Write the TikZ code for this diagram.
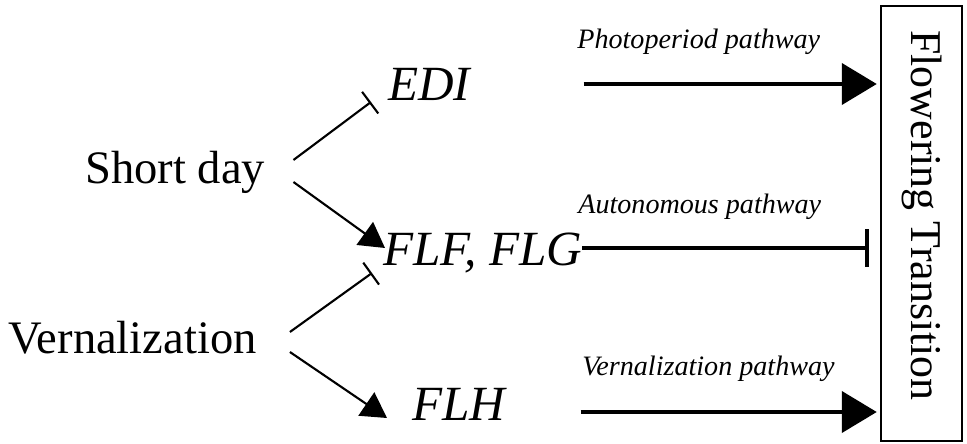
\documentclass[tikz,border=0pt]{standalone}
\usepackage{fontspec}
\setmainfont{Liberation Serif}
\usetikzlibrary{arrows.meta}

\begin{document}
\begin{tikzpicture}[x=0.02cm, y=-0.02cm,
        signal/.style={font=\fontsize{26.5}{30}\selectfont, inner sep=0pt, anchor=base west},
        gene/.style={font=\fontsize{28}{32}\selectfont\itshape, inner sep=0pt, anchor=base west},
        pathlabel/.style={font=\fontsize{16}{19}\selectfont\itshape, inner sep=0pt, anchor=base west},
        promote/.style={line width=1.2pt, -{Triangle[length=0.5cm, width=0.56cm]}},
        repress/.style={line width=1.2pt, -{Bar[width=0.54cm]}},
        bigpromote/.style={line width=2.4pt, -{Triangle[length=0.7cm, width=0.82cm]}, shorten >=0.06cm},
        bigrepress/.style={line width=2pt, -{Bar[width=0.76cm]}, shorten >=0.22cm}]
        \useasboundingbox (0,0) rectangle (967,443);
        \node[signal] (shortday) at (85,183) {Short day};
        \node[signal] (vern) at (8,353) {Vernalization};
        \node[gene] (edi) at (388,100) {EDI};
        \node[gene] (flf) at (383,265) {FLF, FLG};
        \node[gene] (flh) at (412,420) {FLH};
        \node[pathlabel] (photolab) at (577,48) {Photoperiod pathway};
        \node[pathlabel] (autolab) at (578,213) {Autonomous pathway};
        \node[pathlabel] (vernlab) at (582,375) {Vernalization pathway};
        \node[draw, line width=1.4pt, rotate=-90, minimum width=8.7cm, minimum height=1.62cm,
              font=\fontsize{25}{29}\selectfont] (flower) at (921.5,223.5) {Flowering Transition\kern0.32cm};
        \draw[repress] ([shift={(28,-23)}]shortday.base east) -- ([shift={(-17,2)}]edi.base west);
        \draw[promote] ([shift={(28,-1)}]shortday.base east) -- ([shift={(2,-17)}]flf.base west);
        \draw[repress] ([shift={(33,-21)}]vern.base east) -- ([shift={(-11,8)}]flf.base west);
        \draw[promote] ([shift={(33,-1)}]vern.base east) -- ([shift={(-25,-2)}]flh.base west);
        \draw[bigpromote] ([shift={(113,-16)}]edi.base east) coordinate (e1) -- (e1 -| flower.south);
        \draw[bigrepress] ([shift={(0,-17)}]flf.base east) coordinate (e2) -- (e2 -| flower.south);
        \draw[bigpromote] ([shift={(75,-8)}]flh.base east) coordinate (e3) -- (e3 -| flower.south);
\end{tikzpicture}
\end{document}
